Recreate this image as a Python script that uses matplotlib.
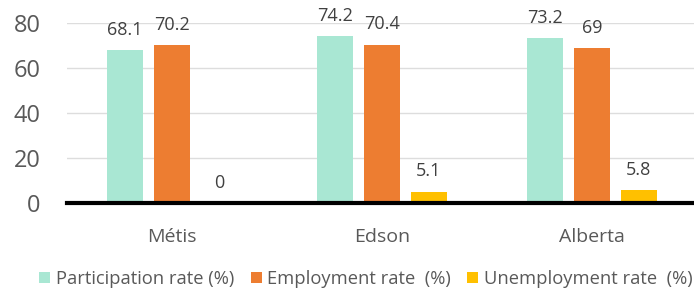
import matplotlib
matplotlib.use("Agg")
import matplotlib.pyplot as plt
import numpy as np

categories = ["Métis", "Edson", "Alberta"]
series_names = ["Participation rate (%)", "Employment rate  (%)", "Unemployment rate  (%)"]
participation = [68.1, 74.2, 73.2]
employment = [70.2, 70.4, 69]
unemployment = [0, 5.1, 5.8]
labels_txt = [["68.1", "74.2", "73.2"], ["70.2", "70.4", "69"], ["0", "5.1", "5.8"]]
colors = ["#A9E7D3", "#ED7D31", "#FFC000"]
yticks = [0, 20, 40, 60, 80]

plt.rcParams['font.family'] = ['Open Sans', 'DejaVu Sans']

fig = plt.figure(figsize=(6.94, 2.93), dpi=100)
ax = fig.add_axes([67/694, 90/293, 630/694, 180/293])

x = np.arange(len(categories))
w = 0.171
pitch = 0.223
series = [participation, employment, unemployment]
for i, (vals, c, name) in enumerate(zip(series, colors, series_names)):
    pos = x + (i - 1) * pitch
    ax.bar(pos, vals, width=w, color=c, label=name, zorder=3)
    for xp, v, t in zip(pos, vals, labels_txt[i]):
        ax.annotate(t, (xp, v), xytext=(0, 8), textcoords="offset points",
                    ha="center", va="bottom", fontsize=13, color="#404040",
                    annotation_clip=False)

ax.set_xlim(-0.5, 2.5)
ax.set_ylim(0, 80)
ax.set_yticks(yticks)
ax.set_xticks(x)
ax.set_xticklabels(categories)
ax.tick_params(axis='y', length=0, pad=19, labelsize=17, labelcolor="#595959")
ax.tick_params(axis='x', length=0, pad=18, labelsize=14, labelcolor="#595959")
ax.grid(axis='y', color="#DDDDDD", linewidth=1, zorder=0)
for s in ["top", "right", "left"]:
    ax.spines[s].set_visible(False)
ax.spines["bottom"].set_linewidth(3)
ax.spines["bottom"].set_color("black")
ax.spines["bottom"].set_zorder(4)

fig.legend(loc="center", bbox_to_anchor=(366/694, 1 - 279/293), ncol=3,
           frameon=False, fontsize=13.2, handlelength=0.6, handleheight=0.6,
           handletextpad=0.3, columnspacing=0.9, labelcolor="#595959",
           borderpad=0, borderaxespad=0)

fig.savefig("out.png", dpi=100)
